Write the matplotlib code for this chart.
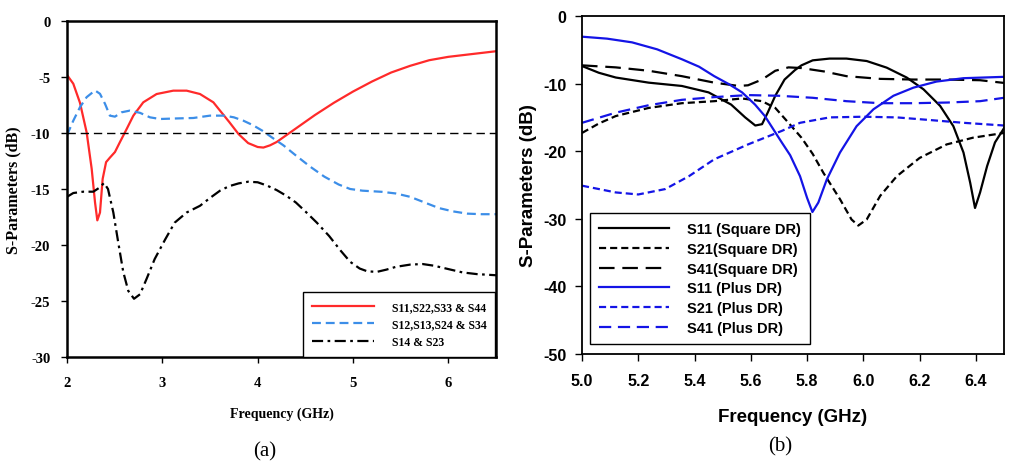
import matplotlib.pyplot as plt

plt.rcParams['axes.unicode_minus'] = False

# ---- panel (a) data ----
a_s11_f = [2.0, 2.066, 2.136, 2.206, 2.259, 2.294, 2.318, 2.346, 2.374, 2.41, 2.45, 2.503, 2.556, 2.626,
           2.696, 2.80, 2.94, 3.115, 3.255, 3.395, 3.535, 3.605, 3.70, 3.80, 3.90, 4.0, 4.06, 4.13, 4.20,
           4.30, 4.45, 4.60, 4.80, 5.0, 5.2, 5.4, 5.6, 5.8, 6.0, 6.2, 6.4, 6.5]
a_s11_db = [-4.82, -5.6, -7.3, -9.94, -13.2, -16.2, -17.8, -17.1, -14.1, -12.6, -12.2, -11.7, -10.8, -9.64,
            -8.45, -7.26, -6.52, -6.22, -6.22, -6.52, -7.26, -8.0, -9.0, -10.1, -10.9, -11.25, -11.3, -11.1, -10.8,
            -10.2, -9.3, -8.4, -7.3, -6.3, -5.4, -4.6, -4.0, -3.5, -3.2, -3.0, -2.8, -2.7]

a_s12_f = [2.0, 2.066, 2.136, 2.206, 2.294, 2.346, 2.399, 2.45, 2.503, 2.573, 2.66, 2.766, 2.87, 2.975,
           3.15, 3.325, 3.50, 3.65, 3.75, 3.85, 3.95, 4.05, 4.15, 4.27, 4.40, 4.55, 4.70, 4.85, 4.97,
           5.10, 5.30, 5.45, 5.60, 5.75, 5.90, 6.05, 6.20, 6.35, 6.5]
a_s12_db = [-10.2, -8.9, -7.7, -6.8, -6.2, -6.5, -7.4, -8.45, -8.54, -8.15, -8.0, -8.2, -8.6, -8.75,
            -8.7, -8.66, -8.45, -8.45, -8.6, -8.9, -9.3, -9.8, -10.4, -11.1, -12.0, -13.0, -13.9, -14.6, -15.0,
            -15.15, -15.25, -15.4, -15.7, -16.2, -16.7, -17.0, -17.2, -17.25, -17.25]

a_s14_f = [2.0, 2.066, 2.17, 2.276, 2.346, 2.388, 2.43, 2.486, 2.538, 2.59, 2.643, 2.703, 2.766, 2.836,
           2.92, 3.03, 3.13, 3.255, 3.395, 3.50, 3.605, 3.70, 3.80, 3.90, 4.0, 4.1, 4.2, 4.3, 4.4, 4.5,
           4.62, 4.75, 4.87, 4.97, 5.07, 5.15, 5.25, 5.35, 5.45, 5.6, 5.73, 5.85, 6.0, 6.15, 6.3, 6.5]
a_s14_db = [-15.7, -15.36, -15.24, -15.24, -14.85, -14.46, -15.0, -17.1, -19.8, -22.4, -24.1, -24.8, -24.4, -23.0,
            -21.25, -19.5, -18.0, -17.1, -16.5, -15.8, -15.15, -14.75, -14.5, -14.35, -14.4, -14.7, -15.1, -15.6, -16.2, -17.0,
            -18.0, -19.2, -20.5, -21.5, -22.1, -22.35, -22.4, -22.2, -21.95, -21.75, -21.7, -21.85, -22.15, -22.45, -22.6, -22.7]

# ---- panel (b) data ----
sq_s11_f = [5.0, 5.06, 5.12, 5.237, 5.355, 5.45, 5.53, 5.58, 5.616, 5.64, 5.66, 5.687, 5.72, 5.757, 5.78,
            5.82, 5.88, 5.94, 6.012, 6.083, 6.154, 6.214, 6.273, 6.32, 6.356, 6.38, 6.397, 6.415, 6.44, 6.468, 6.5]
sq_s11_db = [-7.4, -8.4, -9.1, -9.86, -10.35, -11.3, -13.1, -15.0, -16.2, -16.0, -14.3, -11.8, -9.4, -8.0, -7.3,
             -6.56, -6.3, -6.3, -6.66, -7.64, -9.1, -10.85, -13.3, -16.3, -20.2, -24.7, -28.4, -26.1, -22.2, -18.7, -16.6]

sq_s21_f = [5.0, 5.06, 5.12, 5.237, 5.355, 5.47, 5.569, 5.64, 5.687, 5.734, 5.78, 5.82, 5.858, 5.917, 5.958,
            5.982, 6.012, 6.06, 6.119, 6.2, 6.296, 6.39, 6.5]
sq_s21_db = [-17.3, -15.9, -14.8, -13.6, -12.9, -12.6, -12.2, -12.6, -13.6, -15.8, -18.0, -20.4, -23.2, -27.1, -30.1,
             -31.0, -30.1, -26.6, -23.7, -21.0, -19.0, -18.0, -17.3]

sq_s41_f = [5.0, 5.12, 5.237, 5.355, 5.47, 5.557, 5.59, 5.64, 5.687, 5.734, 5.78, 5.86, 5.94, 6.06, 6.18, 6.296, 6.415, 6.5]
sq_s41_db = [-7.3, -7.6, -8.1, -8.9, -9.86, -10.35, -10.25, -9.4, -8.1, -7.6, -7.7, -8.2, -8.9, -9.3, -9.4, -9.4, -9.5, -9.9]

pl_s11_f = [5.0, 5.089, 5.178, 5.267, 5.355, 5.416, 5.47, 5.523, 5.569, 5.615, 5.65, 5.71, 5.74, 5.775, 5.80,
            5.819, 5.84, 5.87, 5.917, 5.976, 6.036, 6.107, 6.178, 6.26, 6.356, 6.5]
pl_s11_db = [-3.06, -3.35, -3.9, -4.93, -6.4, -7.5, -8.9, -10.1, -11.3, -13.1, -14.8, -18.7, -20.6, -23.7, -26.9,
             -29.0, -27.6, -24.2, -20.2, -16.3, -13.8, -11.8, -10.6, -9.7, -9.2, -9.0]

pl_s21_f = [5.0, 5.12, 5.2, 5.296, 5.38, 5.47, 5.59, 5.71, 5.775, 5.88, 6.0, 6.119, 6.24, 6.356, 6.5]
pl_s21_db = [-25.1, -26.1, -26.4, -25.6, -23.7, -21.2, -19.0, -17.0, -15.8, -15.0, -14.9, -15.0, -15.4, -15.8, -16.2]

pl_s41_f = [5.0, 5.12, 5.237, 5.355, 5.47, 5.59, 5.70, 5.82, 5.94, 6.06, 6.178, 6.3, 6.415, 6.5]
pl_s41_db = [-15.8, -14.3, -13.2, -12.4, -12.0, -11.7, -11.8, -12.1, -12.6, -12.9, -12.9, -12.8, -12.6, -12.1]

W, H = 1011, 464
fig = plt.figure(figsize=(W / 100, H / 100), dpi=100)

serif = ['Liberation Serif', 'DejaVu Serif']
sans = ['Liberation Sans', 'DejaVu Sans']

# ---------------- (a) ----------------
ax1 = fig.add_axes([67 / W, 1 - 358 / H, 429 / W, 336 / H])
ax1.plot(a_s11_f, a_s11_db, color='#ff2a2a', lw=1.6, label='S11,S22,S33 & S44')
ax1.plot(a_s12_f, a_s12_db, color='#3c8ee8', lw=1.6, dashes=(4, 2.2), label='S12,S13,S24 & S34')
ax1.plot(a_s14_f, a_s14_db, color='black', lw=1.6, dashes=(5, 2, 1.2, 2), label='S14 & S23')
ax1.axhline(-10, color='black', lw=1.0, dashes=(6, 3.5))
ax1.set_xlim(2, 6.5)
ax1.set_ylim(-30, 0)
ax1.set_xticks([2, 3, 4, 5, 6])
ax1.set_yticks(range(-30, 1, 5))
for sp in ax1.spines.values():
    sp.set_linewidth(1.8)
ax1.tick_params(direction='out', length=4, width=1)
ax1.tick_params(axis='x', pad=10)
ax1.tick_params(axis='y', pad=8)
for lab in ax1.get_xticklabels() + ax1.get_yticklabels():
    lab.set_family(serif)
    lab.set_fontweight('bold')
    lab.set_fontsize(10.5)
ax1.set_xlabel('Frequency (GHz)', family=serif, fontweight='bold', fontsize=10, labelpad=12)
ax1.set_ylabel('S-Parameters (dB)', family=serif, fontweight='bold', fontsize=11.5, labelpad=7)
leg1 = ax1.legend(loc='lower right', bbox_to_anchor=(0.998, 0.0),
                  borderaxespad=0, fancybox=False, handlelength=5.3, handletextpad=1.45,
                  prop={'family': serif, 'weight': 'bold', 'size': 8.5}, labelspacing=0.48,
                  borderpad=0.75)
leg1.get_frame().set_edgecolor('black')
leg1.get_frame().set_linewidth(1.0)
leg1.get_frame().set_alpha(1)

# ---------------- (b) ----------------
ax2 = fig.add_axes([582 / W, 1 - 355 / H, 422 / W, 338 / H])
blue = '#1414e6'
ax2.plot(sq_s11_f, sq_s11_db, color='black', lw=1.6, label='S11 (Square DR)')
ax2.plot(sq_s21_f, sq_s21_db, color='black', lw=1.6, dashes=(3.2, 1.8), label='S21(Square DR)')
ax2.plot(sq_s41_f, sq_s41_db, color='black', lw=1.6, dashes=(7, 3.5), label='S41(Square DR)')
ax2.plot(pl_s11_f, pl_s11_db, color=blue, lw=1.6, label='S11 (Plus DR)')
ax2.plot(pl_s21_f, pl_s21_db, color=blue, lw=1.6, dashes=(3.2, 1.8), label='S21 (Plus DR)')
ax2.plot(pl_s41_f, pl_s41_db, color=blue, lw=1.6, dashes=(5.5, 3), label='S41 (Plus DR)')
ax2.set_xlim(5.0, 6.5)
ax2.set_ylim(-50, 0)
ax2.set_xticks([5.0, 5.2, 5.4, 5.6, 5.8, 6.0, 6.2, 6.4])
ax2.set_xticklabels(['5.0', '5.2', '5.4', '5.6', '5.8', '6.0', '6.2', '6.4'])
ax2.set_yticks(range(-50, 1, 10))
for sp in ax2.spines.values():
    sp.set_linewidth(1.3)
ax2.tick_params(direction='out', length=5, width=1)
ax2.tick_params(axis='x', pad=9)
ax2.tick_params(axis='y', pad=6)
for lab in ax2.get_xticklabels() + ax2.get_yticklabels():
    lab.set_family(sans)
    lab.set_fontweight('bold')
    lab.set_fontsize(11.5)
ax2.set_xlabel('Frequency (GHz)', family=sans, fontweight='bold', fontsize=13.5, labelpad=14)
ax2.set_ylabel('S-Parameters (dB)', family=sans, fontweight='bold', fontsize=13.5, labelpad=5)
leg2 = ax2.legend(loc='lower left', bbox_to_anchor=(0.019, 0.03),
                  borderaxespad=0, fancybox=False, handlelength=4.8, handletextpad=1.25,
                  prop={'family': sans, 'weight': 'bold', 'size': 10.5}, labelspacing=0.4,
                  borderpad=0.6)
leg2.get_frame().set_edgecolor('black')
leg2.get_frame().set_linewidth(1.0)
leg2.get_frame().set_alpha(1)

fig.text(265 / W, 1 - 452 / H, '(a)', ha='center', va='center', family=serif, fontsize=15)
fig.text(780 / W, 1 - 447 / H, '(b)', ha='center', va='center', family=serif, fontsize=15)

fig.savefig('out.png', dpi=100)
